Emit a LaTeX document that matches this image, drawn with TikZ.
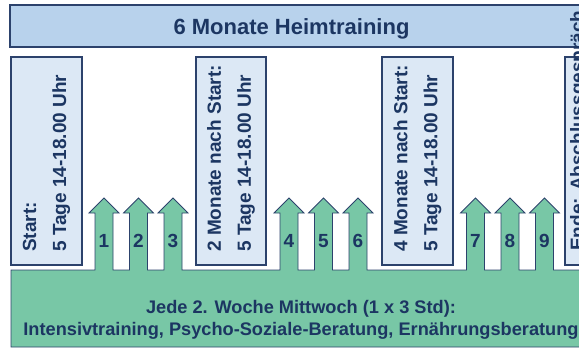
\documentclass[tikz,border=0pt]{standalone}
\usepackage{fontspec}
\setmainfont{Liberation Sans}
\usepackage{tikz}
\usetikzlibrary{positioning}
\definecolor{navy}{RGB}{28,54,98}
\definecolor{edge}{RGB}{44,66,108}
\definecolor{banner}{RGB}{184,210,236}
\definecolor{pale}{RGB}{220,232,245}
\definecolor{mint}{RGB}{120,199,166}
\tikzset{every node/.append style={text=navy, inner sep=0pt}}
\tikzset{
  phase/.style={draw=edge, line width=1.3pt, fill=pale},
  phasetext/.style={rotate=90, anchor=west, align=left, font=\fontsize{19}{30}\selectfont\bfseries},
  weeknum/.style={anchor=base, font=\fontsize{19}{22}\selectfont\bfseries},
  bottomtext/.style={anchor=base, font=\fontsize{18.2}{22}\selectfont\bfseries}
}

\begin{document}
\begin{tikzpicture}[x=1pt, y=-1pt]
  \useasboundingbox (0,0) rectangle (579,349);
  \clip (0,0) rectangle (579,349);

  % banner
  \draw[draw=edge, line width=1.3pt, fill=banner] (10,5) rectangle (650,47);
  \node[anchor=base, font=\fontsize{22}{26}\selectfont\bfseries] (title) at (291.5,34) {6 Monate Heimtraining};

  % phases
  \draw[phase] (11,57) rectangle (82,265);
  \draw[phase] (196,57) rectangle (266,265);
  \draw[phase] (382,57) rectangle (453,265);
  \draw[phase] (565,57) rectangle (636,265);
  \node[phasetext] (start) at (46.5,252) {Start:\\5 Tage 14-18.00 Uhr};
  \node[phasetext] (month2) at (231,252) {2 Monate nach Start:\\5 Tage 14-18.00 Uhr};
  \node[phasetext] (month4) at (417.5,252) {4 Monate nach Start:\\5 Tage 14-18.00 Uhr};
  \node[phasetext] (ende) at (579,251) {Ende: Abschlussgespräch};

  % base with arrows
  \draw[draw=edge, line width=0.8pt, fill=mint] (11,347) -- (11,270)
    \foreach \c in {104,138.5,173,289,323.5,358,475.5,510,544.5}{
      -- (\c-9,270) -- (\c-9,213) -- (\c-15,213) -- (\c,198) -- (\c+15,213) -- (\c+9,213) -- (\c+9,270)
    } -- (650,270) -- (650,347) -- cycle;
  \foreach \c [count=\i] in {104,138.5,173,289,323.5,358,475.5,510,544.5}
    \node[weeknum] (w\i) at (\c,247) {\i};

  \node[bottomtext] (every) at (301,313) {Jede 2. Woche Mittwoch (1 x 3 Std):};
  \node[bottomtext] (topics) at (301,335) {Intensivtraining, Psycho-Soziale-Beratung, Ernährungsberatung};
\end{tikzpicture}
\end{document}
